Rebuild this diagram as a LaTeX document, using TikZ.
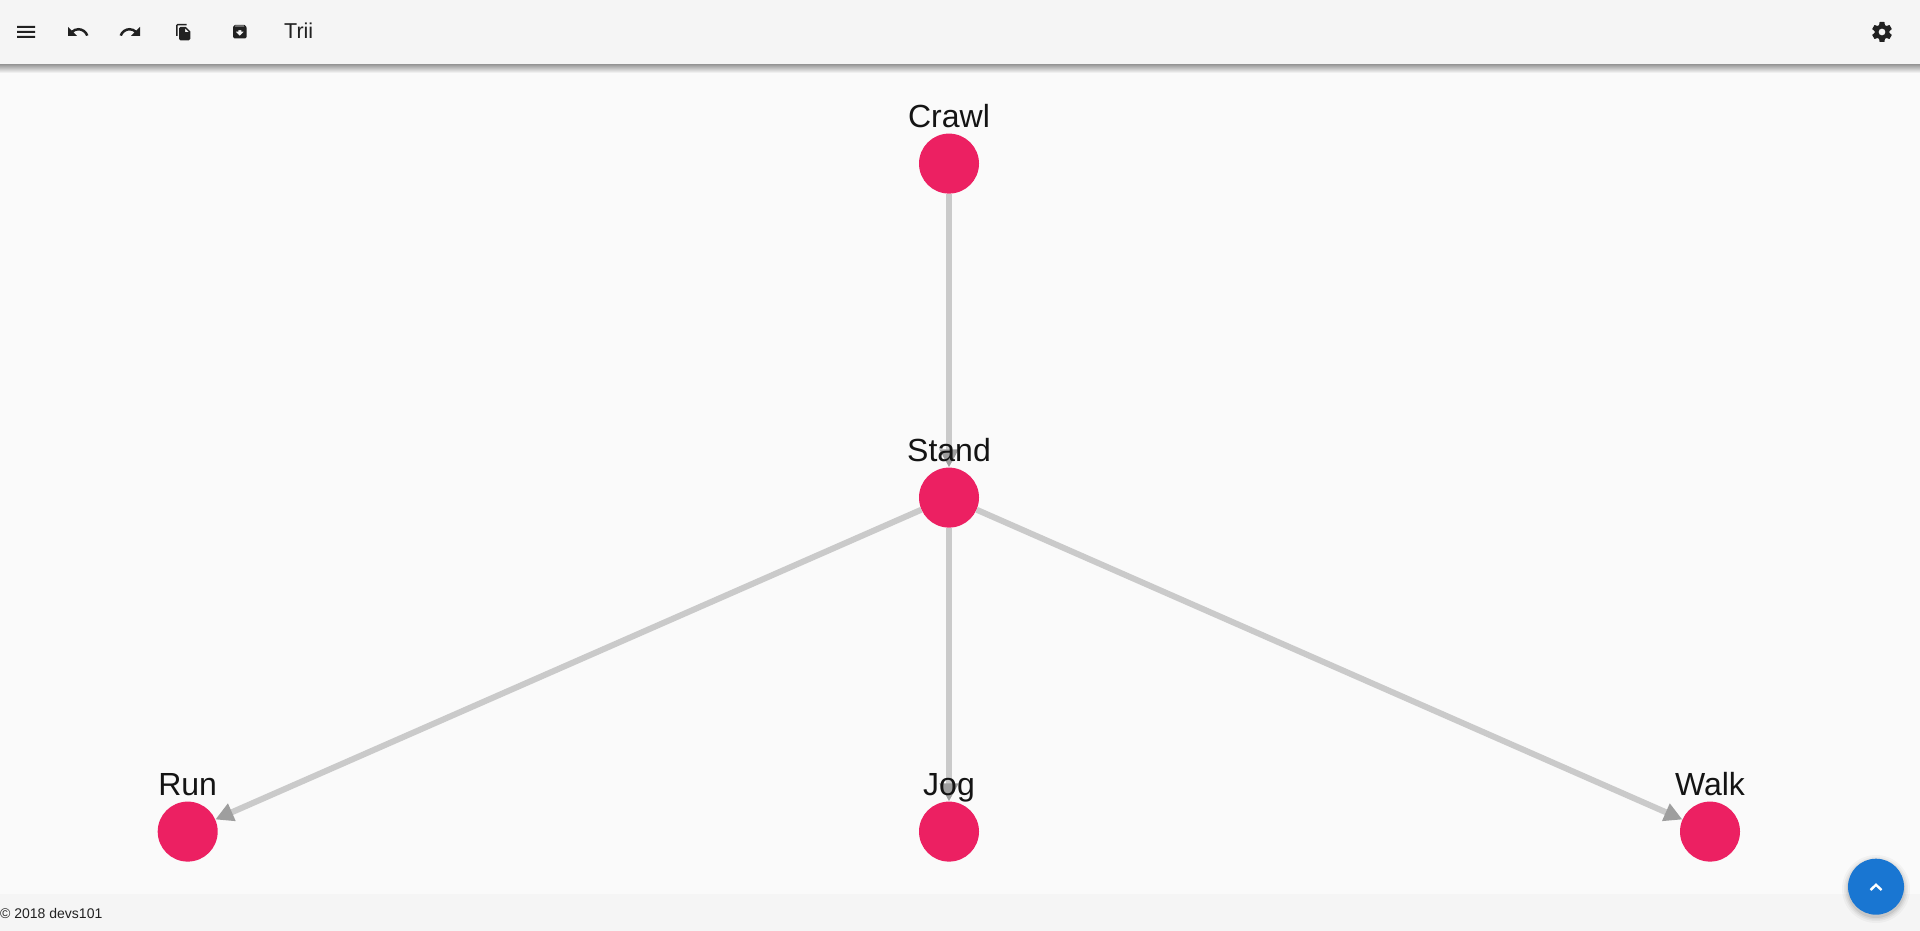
\documentclass[tikz,border=0pt]{standalone}
\usepackage{fontspec}
\setmainfont{Liberation Sans}
\usetikzlibrary{arrows.meta,svg.path}
\definecolor{pagebg}{HTML}{FAFAFA}
\definecolor{barbg}{HTML}{F5F5F5}
\definecolor{pinknode}{HTML}{EC2062}
\definecolor{edgeline}{HTML}{CACACA}
\definecolor{edgetip}{HTML}{9E9E9E}
\definecolor{iconcol}{HTML}{212121}
\definecolor{fabblue}{HTML}{1976D2}
\tikzset{
  vertex/.style={circle,fill=pinknode,draw=none,inner sep=0pt,minimum size=60pt},
  vlabel/.style={anchor=base,inner sep=0pt,text=black!92,font=\fontsize{32pt}{34pt}\selectfont},
  edge/.style={draw=edgeline,line width=6pt,-{Triangle[length=18pt,width=18pt,color=edgetip]}},
  icon/.style={fill=iconcol,even odd rule},
  bartext/.style={anchor=base west,inner sep=0pt,text=iconcol}
}
\begin{document}
\begin{tikzpicture}[x=1pt,y=-1pt]
\useasboundingbox (0,0) rectangle (1920,931);
\fill[pagebg] (0,0) rectangle (1920,931);
% footer
\fill[barbg] (0,894) rectangle (1920,931);
\node[bartext,font=\fontsize{14pt}{16pt}\selectfont] (copy) at (0,918) {© 2018 devs101};
% toolbar with shadow
\shade[top color=black!42,bottom color=pagebg] (0,64) rectangle (1920,73);
\fill[barbg] (0,0) rectangle (1920,64);
\node[bartext,font=\fontsize{21.5pt}{23pt}\selectfont] (title) at (284,39) {Trii};
% icons
\begin{scope}[shift={(14,20)},yscale=-1]
  \fill[icon] svg {M3 18h18v-2H3v2zm0-5h18v-2H3v2zm0-7v2h18V6H3z};
\end{scope}
\begin{scope}[shift={(66,20)},yscale=-1]
  \fill[icon] svg {M12.5 8c-2.65 0-5.05.99-6.9 2.6L2 7v9h9l-3.62-3.62c1.39-1.16 3.16-1.88 5.12-1.88 3.54 0 6.55 2.31 7.6 5.5l2.37-.78C21.08 11.03 17.15 8 12.5 8z};
\end{scope}
\begin{scope}[shift={(118,20)},yscale=-1]
  \fill[icon] svg {M18.4 10.6C16.55 8.99 14.15 8 11.5 8c-4.65 0-8.58 3.03-9.96 7.22L3.9 16c1.05-3.19 4.05-5.5 7.6-5.5 1.95 0 3.73.72 5.12 1.88L13 16h9V7l-3.6 3.6z};
\end{scope}
\begin{scope}[shift={(174.5,23.2)},yscale=-0.75,xscale=0.75]
  \fill[icon] svg {M16 1H4c-1.1 0-2 .9-2 2v14h2V3h12V1zm-1 4l6 6v10c0 1.1-.9 2-2 2H7.99C6.89 23 6 22.1 6 21l.01-14c0-1.1.89-2 1.99-2h7zm-1 7h5.5L14 6.5V12z};
\end{scope}
\begin{scope}[shift={(230.75,22.75)},yscale=-0.75,xscale=0.75]
  \fill[icon] svg {M20.54 5.23l-1.39-1.68C18.88 3.21 18.47 3 18 3H6c-.47 0-.88.21-1.16.55L3.46 5.23C3.17 5.57 3 6.02 3 6.5V19c0 1.1.9 2 2 2h14c1.1 0 2-.9 2-2V6.5c0-.48-.17-.93-.46-1.27zM12 17.5L6.5 12H10v-2h4v2h3.5L12 17.5zM5.12 5l.81-1h12l.94 1H5.12z};
\end{scope}
\begin{scope}[shift={(1870,20)},yscale=-1]
  \fill[icon] svg {M19.43 12.98c.04-.32.07-.64.07-.98s-.03-.66-.07-.98l2.11-1.65c.19-.15.24-.42.12-.64l-2-3.46c-.12-.22-.39-.3-.61-.22l-2.49 1c-.52-.4-1.08-.73-1.69-.98l-.38-2.65C14.46 2.18 14.25 2 14 2h-4c-.25 0-.46.18-.49.42l-.38 2.65c-.61.25-1.17.59-1.69.98l-2.49-1c-.23-.09-.49 0-.61.22l-2 3.46c-.13.22-.07.49.12.64l2.11 1.65c-.04.32-.07.65-.07.98s.03.66.07.98l-2.11 1.65c-.19.15-.24.42-.12.64l2 3.46c.12.22.39.3.61.22l2.49-1c.52.4 1.08.73 1.69.98l.38 2.65c.03.24.24.42.49.42h4c.25 0 .46-.18.49-.42l.38-2.65c.61-.25 1.17-.59 1.69-.98l2.49 1c.23.09.49 0 .61-.22l2-3.46c.12-.22.07-.49-.12-.64l-2.11-1.65zM12 15.5c-1.93 0-3.5-1.57-3.5-3.5s1.57-3.5 3.5-3.5 3.5 1.57 3.5 3.5-1.57 3.5-3.5 3.5z};
\end{scope}
% graph
\node[vertex] (crawl) at (949,163.6) {};
\node[vertex] (stand) at (949,497.6) {};
\node[vertex] (run)   at (187.7,831.6) {};
\node[vertex] (jog)   at (949,831.6) {};
\node[vertex] (walk)  at (1710,831.6) {};
\draw[edge] (crawl) -- (stand);
\draw[edge] (stand) -- (run);
\draw[edge] (stand) -- (jog);
\draw[edge] (stand) -- (walk);
\node[vlabel] (lcrawl) at (949,127.3) {Crawl};
\node[vlabel] (lstand) at (949,461.3) {Stand};
\node[vlabel] (lrun)   at (187.7,795) {Run};
\node[vlabel] (ljog)   at (949,795) {Jog};
\node[vlabel] (lwalk)  at (1710,795) {Walk};
% floating button
\foreach \r/\o in {34/0.03,32/0.04,30.5/0.05,29/0.07}{
  \fill[black,opacity=\o] (1876,889) circle[radius=\r pt];
}
\node[circle,fill=fabblue,inner sep=0pt,minimum size=56pt] (fab) at (1876,886.7) {};
\draw[white,line width=2.4pt] (1870.5,890) -- (1876,884.8) -- (1881.5,890);
\end{tikzpicture}
\end{document}
